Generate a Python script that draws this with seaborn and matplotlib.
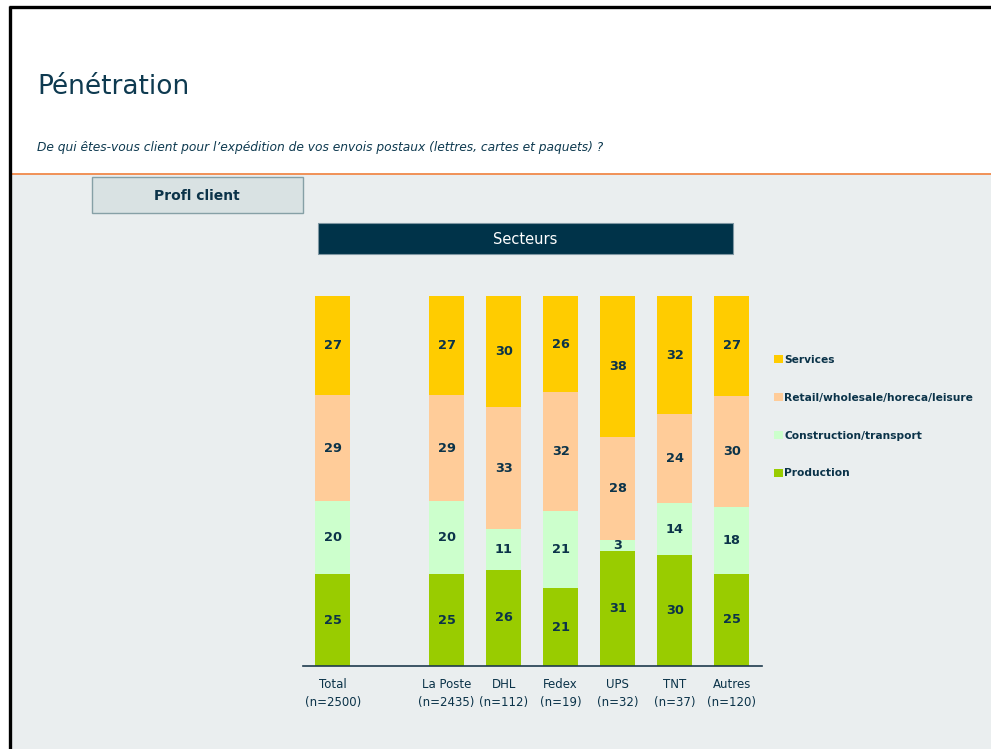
import matplotlib
matplotlib.use("Agg")
import matplotlib.pyplot as plt
import matplotlib.transforms as mtransforms
from matplotlib.patches import Rectangle, Patch
from matplotlib.lines import Line2D
import seaborn as sns
import pandas as pd
import numpy as np

# ---------------- data ----------------
categories = ["Total", "La Poste", "DHL", "Fedex", "UPS", "TNT", "Autres"]
sample_sizes = [2500, 2435, 112, 19, 32, 37, 120]
production = [25, 25, 26, 21, 31, 30, 25]
construction = [20, 20, 11, 21, 3, 14, 18]
retail = [29, 29, 33, 32, 28, 24, 30]
services = [27, 27, 30, 26, 38, 32, 27]

series_names = ["Production", "Construction/transport",
                "Retail/wholesale/horeca/leisure", "Services"]
series_values = [production, construction, retail, services]
series_colors = ["#99CC00", "#CCFFCC", "#FFCC99", "#FFCC00"]

title = "Pénétration"
subtitle = ("De qui êtes-vous client pour l’expédition de vos envois postaux "
            "(lettres, cartes et paquets) ?")
profile_label = "Profl client"
group_label = "Secteurs"

# ---------------- style ----------------
sns.set_theme(style="white")
plt.rcParams["font.family"] = ["DejaVu Sans"]
NAVY = "#0B3349"
BG = "#EAEEEF"

W, H = 991, 749
fig = plt.figure(figsize=(W / 100, H / 100), dpi=100)
fig.patch.set_facecolor("white")
px = mtransforms.Affine2D().scale(1 / W, -1 / H).translate(0, 1) + fig.transFigure

# background panels & frame
fig.add_artist(Rectangle((11, 174), W - 11, H - 174, transform=px,
                         facecolor=BG, edgecolor="none", zorder=0))
fig.add_artist(Line2D([11, W], [173.5, 173.5], transform=px,
                      color="#F0894A", lw=1.3, zorder=1))
fig.add_artist(Line2D([10, 10], [6, H], transform=px, color="black", lw=2.4,
                      solid_capstyle="butt", zorder=2))
fig.add_artist(Line2D([9, W], [7, 7], transform=px, color="black", lw=2.4,
                      solid_capstyle="butt", zorder=2))

fig.text(37 / W, 1 - 87 / H, title, fontsize=19, color="#0E3A50",
         va="center", ha="left")
fig.text(37 / W, 1 - 148 / H, subtitle, fontsize=8.8, style="italic",
         color="#0E3A50", va="center", ha="left")

# header boxes
fig.add_artist(Rectangle((92, 177), 211, 36, transform=px, facecolor="#D9E2E3",
                         edgecolor="#86A0A6", lw=1, zorder=2))
fig.text(197 / W, 1 - 196 / H, profile_label, fontsize=10, fontweight="bold",
         color=NAVY, ha="center", va="center", zorder=3)
fig.add_artist(Rectangle((318, 223), 415, 31, transform=px, facecolor="#003349",
                         edgecolor="#7F97A3", lw=0.8, zorder=2))
fig.text(525 / W, 1 - 239.5 / H, group_label, fontsize=10.5, color="white",
         ha="center", va="center", zorder=3)

# ---------------- chart ----------------
order = [categories[0], " "] + categories[1:]
values = np.array(series_values, dtype=float)
totals = values.sum(axis=0)
shares = values / totals * 100
cum = np.cumsum(shares, axis=0)

ax = fig.add_axes([303 / W, 1 - 666 / H, (762 - 303) / W, 370 / H])
ax.set_facecolor("none")

for i in range(len(series_names) - 1, -1, -1):
    df = pd.DataFrame({"cat": categories, "val": cum[i]})
    sns.barplot(data=df, x="cat", y="val", order=order, color=series_colors[i],
                saturation=1, width=0.61, ax=ax, errorbar=None, linewidth=0)

for j, cat in enumerate(categories):
    xpos = order.index(cat)
    for i in range(len(series_names)):
        low = cum[i - 1][j] if i > 0 else 0
        mid = (low + cum[i][j]) / 2
        ax.text(xpos, mid, f"{series_values[i][j]:d}", ha="center", va="center",
                fontsize=9.3, fontweight="bold", color=NAVY)

ax.set_ylim(0, 100)
ax.set_xlim(-0.52, 7.53)
ax.set_xlabel("")
ax.set_ylabel("")
ax.set_yticks([])
labels = []
for cat in order:
    if cat in categories:
        labels.append(f"{cat}\n(n={sample_sizes[categories.index(cat)]})")
    else:
        labels.append("")
ax.set_xticks(range(len(order)))
ax.set_xticklabels(labels, fontsize=8.5, color=NAVY, linespacing=1.45)
ax.tick_params(axis="x", length=0, pad=9)
for s in ["top", "right", "left"]:
    ax.spines[s].set_visible(False)
ax.spines["bottom"].set_color("#1F3A4D")
ax.spines["bottom"].set_linewidth(1.2)

handles = [Patch(facecolor=series_colors[i], edgecolor="none", label=series_names[i])
           for i in range(len(series_names) - 1, -1, -1)]
leg = ax.legend(handles=handles, loc="upper left", bbox_to_anchor=(774 / W, 1 - 355 / H),
                bbox_transform=fig.transFigure, frameon=False, fontsize=7.7,
                handlelength=0.8, handleheight=0.8, handletextpad=0.15,
                labelspacing=2.6, borderpad=0, borderaxespad=0)
for t in leg.get_texts():
    t.set_color(NAVY)
    t.set_fontweight("bold")

fig.savefig("out.png", dpi=100)
